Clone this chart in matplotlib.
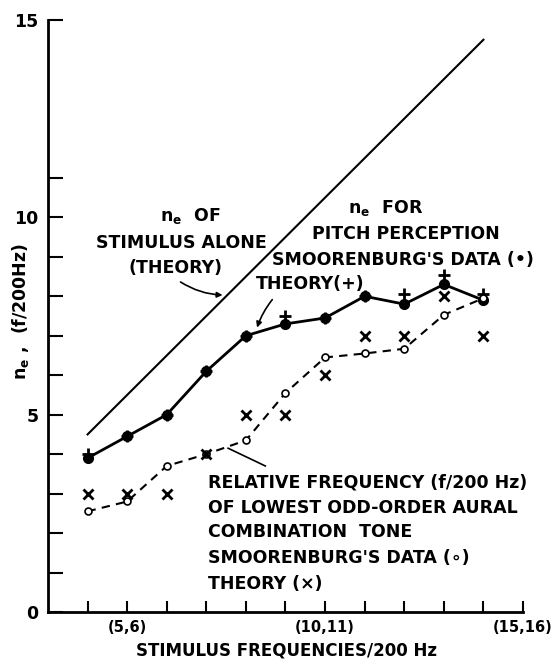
import numpy as np
import matplotlib
matplotlib.use("Agg")
import matplotlib.pyplot as plt

# stimulus pair (n, n+1) -> lower component n
stim = [4, 5, 6, 7, 8, 9, 10, 11, 12, 13, 14]
stim_alone = [4.5, 14.5]          # n_e of stimulus alone (theory), straight line
stim_alone_x = [4, 14]
pitch_data = [3.9, 4.45, 5.0, 6.1, 7.0, 7.3, 7.45, 8.0, 7.8, 8.3, 7.9]
pitch_theory = [4.0, 4.45, 5.0, 6.1, 7.0, 7.5, 7.45, 8.0, 8.05, 8.55, 8.05]
ct_data = [2.55, 2.8, 3.7, 4.0, 4.35, 5.55, 6.45, 6.55, 6.67, 7.53, 7.95]
ct_theory = [3.0, 3.0, 3.0, 4.0, 5.0, 5.0, 6.0, 7.0, 7.0, 8.0, 7.0]
xtick_lab = {5: "(5,6)", 10: "(10,11)", 15: "(15,16)"}

plt.rcParams['font.family'] = ['DejaVu Sans']
plt.rcParams['font.weight'] = 'bold'
plt.rcParams['mathtext.default'] = 'bf'
fs = 12.5

fig = plt.figure(figsize=(5.53, 6.59), dpi=100)
ax = fig.add_axes([48/553, 1-612/659, (523-48)/553, (612-20)/659])

ax.plot(stim_alone_x, stim_alone, color='k', lw=1.5)
ax.plot(stim, pitch_data, color='k', lw=2, marker='o', ms=7)
ax.plot(stim, pitch_theory, ls='none', marker='+', ms=9, mew=2, color='k')
ax.plot(stim, ct_data, color='k', lw=1.5, ls=(0, (4, 3)), marker='o', ms=5,
        mfc='white', mec='k', mew=1.2)
ax.plot(stim, ct_theory, ls='none', marker='x', ms=7, mew=2, color='k')

ax.set_xlim(3, 15)
ax.set_ylim(0, 15)
for s in ['top', 'right']:
    ax.spines[s].set_visible(False)
ax.spines['left'].set_linewidth(2)
ax.spines['bottom'].set_linewidth(2)

xt = list(range(4, 16))
ax.set_xticks(xt)
ax.set_xticklabels([xtick_lab.get(v, "") for v in xt], fontsize=10.5)
ax.tick_params(axis='x', direction='in', length=8, width=1.5, pad=6)

yt = list(range(0, 12)) + [15]
ax.set_yticks(yt)
ax.set_yticklabels([str(v) if v % 5 == 0 else "" for v in yt], fontsize=fs)
ax.tick_params(axis='y', direction='in', length=11, width=1.5, pad=7)

fig.text(287/553, 1-656/659, "STIMULUS FREQUENCIES/200 Hz", fontsize=12,
         ha='center', va='baseline')
fig.text(21/553, 1-312/659, r"n$_\mathbf{e}$ ,  (f/200Hz)", rotation=90,
         fontsize=fs, ha='center', va='center')

kw = dict(fontsize=fs, ha='center', va='center')
ax.text(6.6, 10.04, r"n$_\mathbf{e}$  OF", **kw)
ax.text(6.37, 9.36, "STIMULUS ALONE", **kw)
ax.text(6.21, 8.71, "(THEORY)", **kw)
ax.annotate("", xy=(7.48, 8.03), xytext=(6.29, 8.40),
            arrowprops=dict(arrowstyle='-|>', color='k', lw=1.2,
                            connectionstyle='arc3,rad=0.15', mutation_scale=8))

ax.text(11.52, 10.24, r"n$_\mathbf{e}$  FOR", **kw)
ax.text(12.03, 9.59, "PITCH PERCEPTION", **kw)
ax.text(11.96, 8.93, "SMOORENBURG'S DATA (•)", **kw)
ax.text(8.24, 8.3, "THEORY(+)", fontsize=fs, ha='left', va='center')
ax.annotate("", xy=(8.26, 7.14), xytext=(8.71, 7.97),
            arrowprops=dict(arrowstyle='-|>', color='k', lw=1.2,
                            connectionstyle='arc3,rad=0.1', mutation_scale=8))

lines = ["RELATIVE FREQUENCY (f/200 Hz)", "OF LOWEST ODD-ORDER AURAL",
         "COMBINATION  TONE", "SMOORENBURG'S DATA (∘)", "THEORY (×)"]
line_y = [3.27, 2.64, 2.02, 1.36, 0.72]
for t, y in zip(lines, line_y):
    ax.text(7.05, y, t, fontsize=fs, ha='left', va='center')
ax.plot([8.49, 7.55], [3.70, 4.15], color='k', lw=1.2)

fig.savefig("out.png", dpi=100)
